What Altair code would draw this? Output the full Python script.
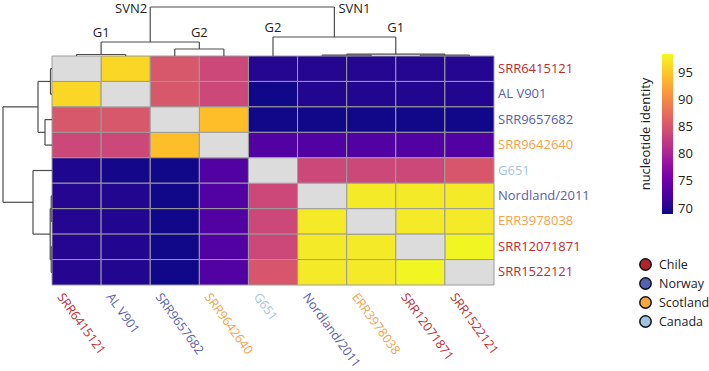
import altair as alt
import pandas as pd

# ---------------- data ----------------
samples = ["SRR6415121", "AL V901", "SRR9657682", "SRR9642640", "G651",
           "Nordland/2011", "ERR3978038", "SRR12071871", "SRR1522121"]
sample_country = ["Chile", "Norway", "Norway", "Scotland", "Canada",
                  "Norway", "Scotland", "Chile", "Chile"]

identity = [
    [None, 96.2, 85.5, 83.8, 70.1, 70.1, 70.1, 70.1, 70.1],
    [96.2, None, 85.5, 83.8, 69.2, 70.0, 70.0, 70.0, 70.0],
    [85.5, 85.5, None, 94.4, 69.2, 69.2, 69.2, 69.2, 69.2],
    [83.8, 83.8, 94.4, None, 73.1, 73.1, 73.1, 73.1, 73.1],
    [69.8, 69.3, 69.2, 73.1, None, 83.8, 83.8, 83.8, 85.3],
    [70.1, 70.0, 69.2, 73.1, 83.8, None, 97.5, 97.5, 97.5],
    [70.1, 70.0, 69.2, 73.1, 83.8, 97.5, None, 97.5, 97.5],
    [70.1, 70.0, 69.2, 73.1, 83.8, 97.5, 97.5, None, 98.3],
    [70.1, 70.0, 69.2, 73.1, 85.3, 97.5, 97.5, 98.3, None],
]

country_names = ["Chile", "Norway", "Scotland", "Canada"]
label_colors = ["#bd2b31", "#5a5ea8", "#f4a24c", "#a6c4e2"]
legend_fill = ["#b3232d", "#5560ae", "#f8a83a", "#9ec3e2"]

color_ticks = [70, 75, 80, 85, 90, 95]
color_domain = [69, 98.5]

# hierarchical clustering (same tree for rows and columns): (child a, child b, merge height)
merges = [
    ("L0", "L1", 1.5),    # n0
    ("L2", "L3", 7.0),    # n1
    ("L5", "L6", 0.8),    # n2
    ("L7", "L8", 0.8),    # n3
    ("n2", "n3", 1.8),    # n4
    ("n0", "n1", 14.0),   # n5  SVN2
    ("L4", "n4", 19.0),   # n6  SVN1
    ("n5", "n6", 49.0),   # n7  root
]
cluster_labels = [("SVN2", "n5", "left"), ("SVN1", "n6", "right"),
                  ("G1", "n0", "top"), ("G2", "n1", "top"),
                  ("G2", "L4", "top"), ("G1", "n4", "top")]

# ---------------- derived tables ----------------
n = len(samples)
cells = []
for i in range(n):
    for j in range(n):
        cells.append(dict(r0=i, r1=i + 1, c0=j, c1=j + 1, value=identity[i][j],
                          diag=identity[i][j] is None))
cells = pd.DataFrame(cells)
offdiag = cells[~cells["diag"]]
diag = cells[cells["diag"]]

pos = {f"L{i}": (i + 0.5, 0.0) for i in range(n)}
parent_h = {}
segs = []
for k, (a, b, h) in enumerate(merges):
    xa, ha = pos[a]
    xb, hb = pos[b]
    segs.append(dict(p=xa, p2=xa, h=ha, h2=h))
    segs.append(dict(p=xb, p2=xb, h=hb, h2=h))
    segs.append(dict(p=xa, p2=xb, h=h, h2=h))
    pos[f"n{k}"] = ((xa + xb) / 2, h)
    parent_h[a] = h
    parent_h[b] = h
segs = pd.DataFrame(segs)
hmax = max(m[2] for m in merges)

clab = pd.DataFrame([dict(text=t, p=pos[node][0], h=parent_h[node], kind=kind)
                     for t, node, kind in cluster_labels])

labels = pd.DataFrame(dict(name=samples, country=sample_country,
                           c=[i + 0.5 for i in range(n)], edge=[n] * n))

FONT = "Open Sans"
grid_scale = alt.Scale(domain=[0, n], nice=False, zero=False)
row_scale = alt.Scale(domain=[0, n], nice=False, zero=False, reverse=True)
top_h_scale = alt.Scale(domain=[0, hmax], range=[0, -hmax], nice=False, zero=False)
left_h_scale = alt.Scale(domain=[0, hmax], range=[0, -hmax], nice=False, zero=False)
label_fill = alt.Scale(domain=country_names, range=label_colors)

heat = alt.Chart(offdiag).mark_rect(stroke="#9c9c9c", strokeWidth=1).encode(
    x=alt.X("c0:Q", scale=grid_scale, axis=None), x2="c1",
    y=alt.Y("r0:Q", scale=row_scale, axis=None), y2="r1",
    color=alt.Color("value:Q",
                    scale=alt.Scale(scheme="plasma", domain=color_domain, nice=False, zero=False),
                    legend=alt.Legend(title="nucleotide identity", orient="none",
                                      legendX=588, legendY=-2, direction="vertical",
                                      gradientLength=160, gradientThickness=11,
                                      titleOrient="left", titleAnchor="middle",
                                      values=color_ticks, labelFontSize=13, titleFontSize=13,
                                      titleFontWeight="normal", labelFont=FONT, titleFont=FONT,
                                      titleColor="#222", labelColor="#222", padding=0,
                                      gradientStrokeWidth=0, labelOffset=5, titlePadding=8,
                                      tickCount=6)),
)

diag_layer = alt.Chart(diag).mark_rect(color="#dcdcdc", stroke="#9c9c9c", strokeWidth=1).encode(
    x=alt.X("c0:Q", scale=grid_scale, axis=None), x2="c1",
    y=alt.Y("r0:Q", scale=row_scale, axis=None), y2="r1",
)

top_dendro = alt.Chart(segs).mark_rule(color="#4d4d4d", strokeWidth=1.2).encode(
    x=alt.X("p:Q", scale=grid_scale, axis=None), x2="p2",
    y=alt.Y("h:Q", scale=top_h_scale, axis=None), y2="h2",
)

left_dendro = alt.Chart(segs).mark_rule(color="#4d4d4d", strokeWidth=1.2).encode(
    y=alt.Y("p:Q", scale=row_scale, axis=None), y2="p2",
    x=alt.X("h:Q", scale=left_h_scale, axis=None), x2="h2",
)

row_labels = alt.Chart(labels).mark_text(align="left", baseline="middle", dx=4,
                                         font=FONT, fontSize=13).encode(
    x=alt.X("edge:Q", scale=grid_scale, axis=None),
    y=alt.Y("c:Q", scale=row_scale, axis=None),
    text="name:N",
    fill=alt.Fill("country:N", scale=label_fill, legend=None),
)

col_labels = alt.Chart(labels).mark_text(align="left", baseline="middle", dx=-2, dy=19,
                                         angle=54, font=FONT, fontSize=12.5).encode(
    x=alt.X("c:Q", scale=grid_scale, axis=None),
    y=alt.Y("edge:Q", scale=row_scale, axis=None),
    text="name:N",
    fill=alt.Fill("country:N", scale=label_fill, legend=None),
)

def clab_layer(kind, **kw):
    return alt.Chart(clab).transform_filter(alt.datum.kind == kind).mark_text(
        font=FONT, fontSize=13, color="#222", **kw).encode(
        x=alt.X("p:Q", scale=grid_scale, axis=None),
        y=alt.Y("h:Q", scale=top_h_scale, axis=None),
        text="text:N",
    )

svn_left = clab_layer("left", align="right", baseline="middle", dx=-3, dy=1.5)
svn_right = clab_layer("right", align="left", baseline="middle", dx=4, dy=1.5)
g_labels = clab_layer("top", align="center", baseline="middle", dy=-9)

country_df = pd.DataFrame(dict(country=country_names))
country_legend = alt.Chart(country_df).transform_filter("false").mark_point(
    filled=True, shape="circle", size=130, stroke="#111", strokeWidth=1.5, opacity=1).encode(
    fill=alt.Fill("country:N", scale=alt.Scale(domain=country_names, range=legend_fill),
                  legend=alt.Legend(title=None, orient="none", legendX=587, legendY=202,
                                    symbolSize=130, symbolStrokeWidth=1.5,
                                    symbolStrokeColor="#111", symbolType="circle",
                                    labelFontSize=12.5, labelFont=FONT, labelColor="#222",
                                    rowPadding=0, labelOffset=7, padding=0)),
)

chart = alt.layer(
    heat, diag_layer, top_dendro, left_dendro, row_labels, col_labels,
    svn_left, svn_right, g_labels, country_legend,
).resolve_scale(
    x="independent", y="independent", color="independent", fill="independent"
).properties(
    width=442, height=229,
    padding={"left": 52, "top": 56, "right": 215, "bottom": 86},
    autosize="none", background="white",
).configure_view(stroke=None)

chart.save("out.html", embed_options={"renderer": "svg", "actions": False})
